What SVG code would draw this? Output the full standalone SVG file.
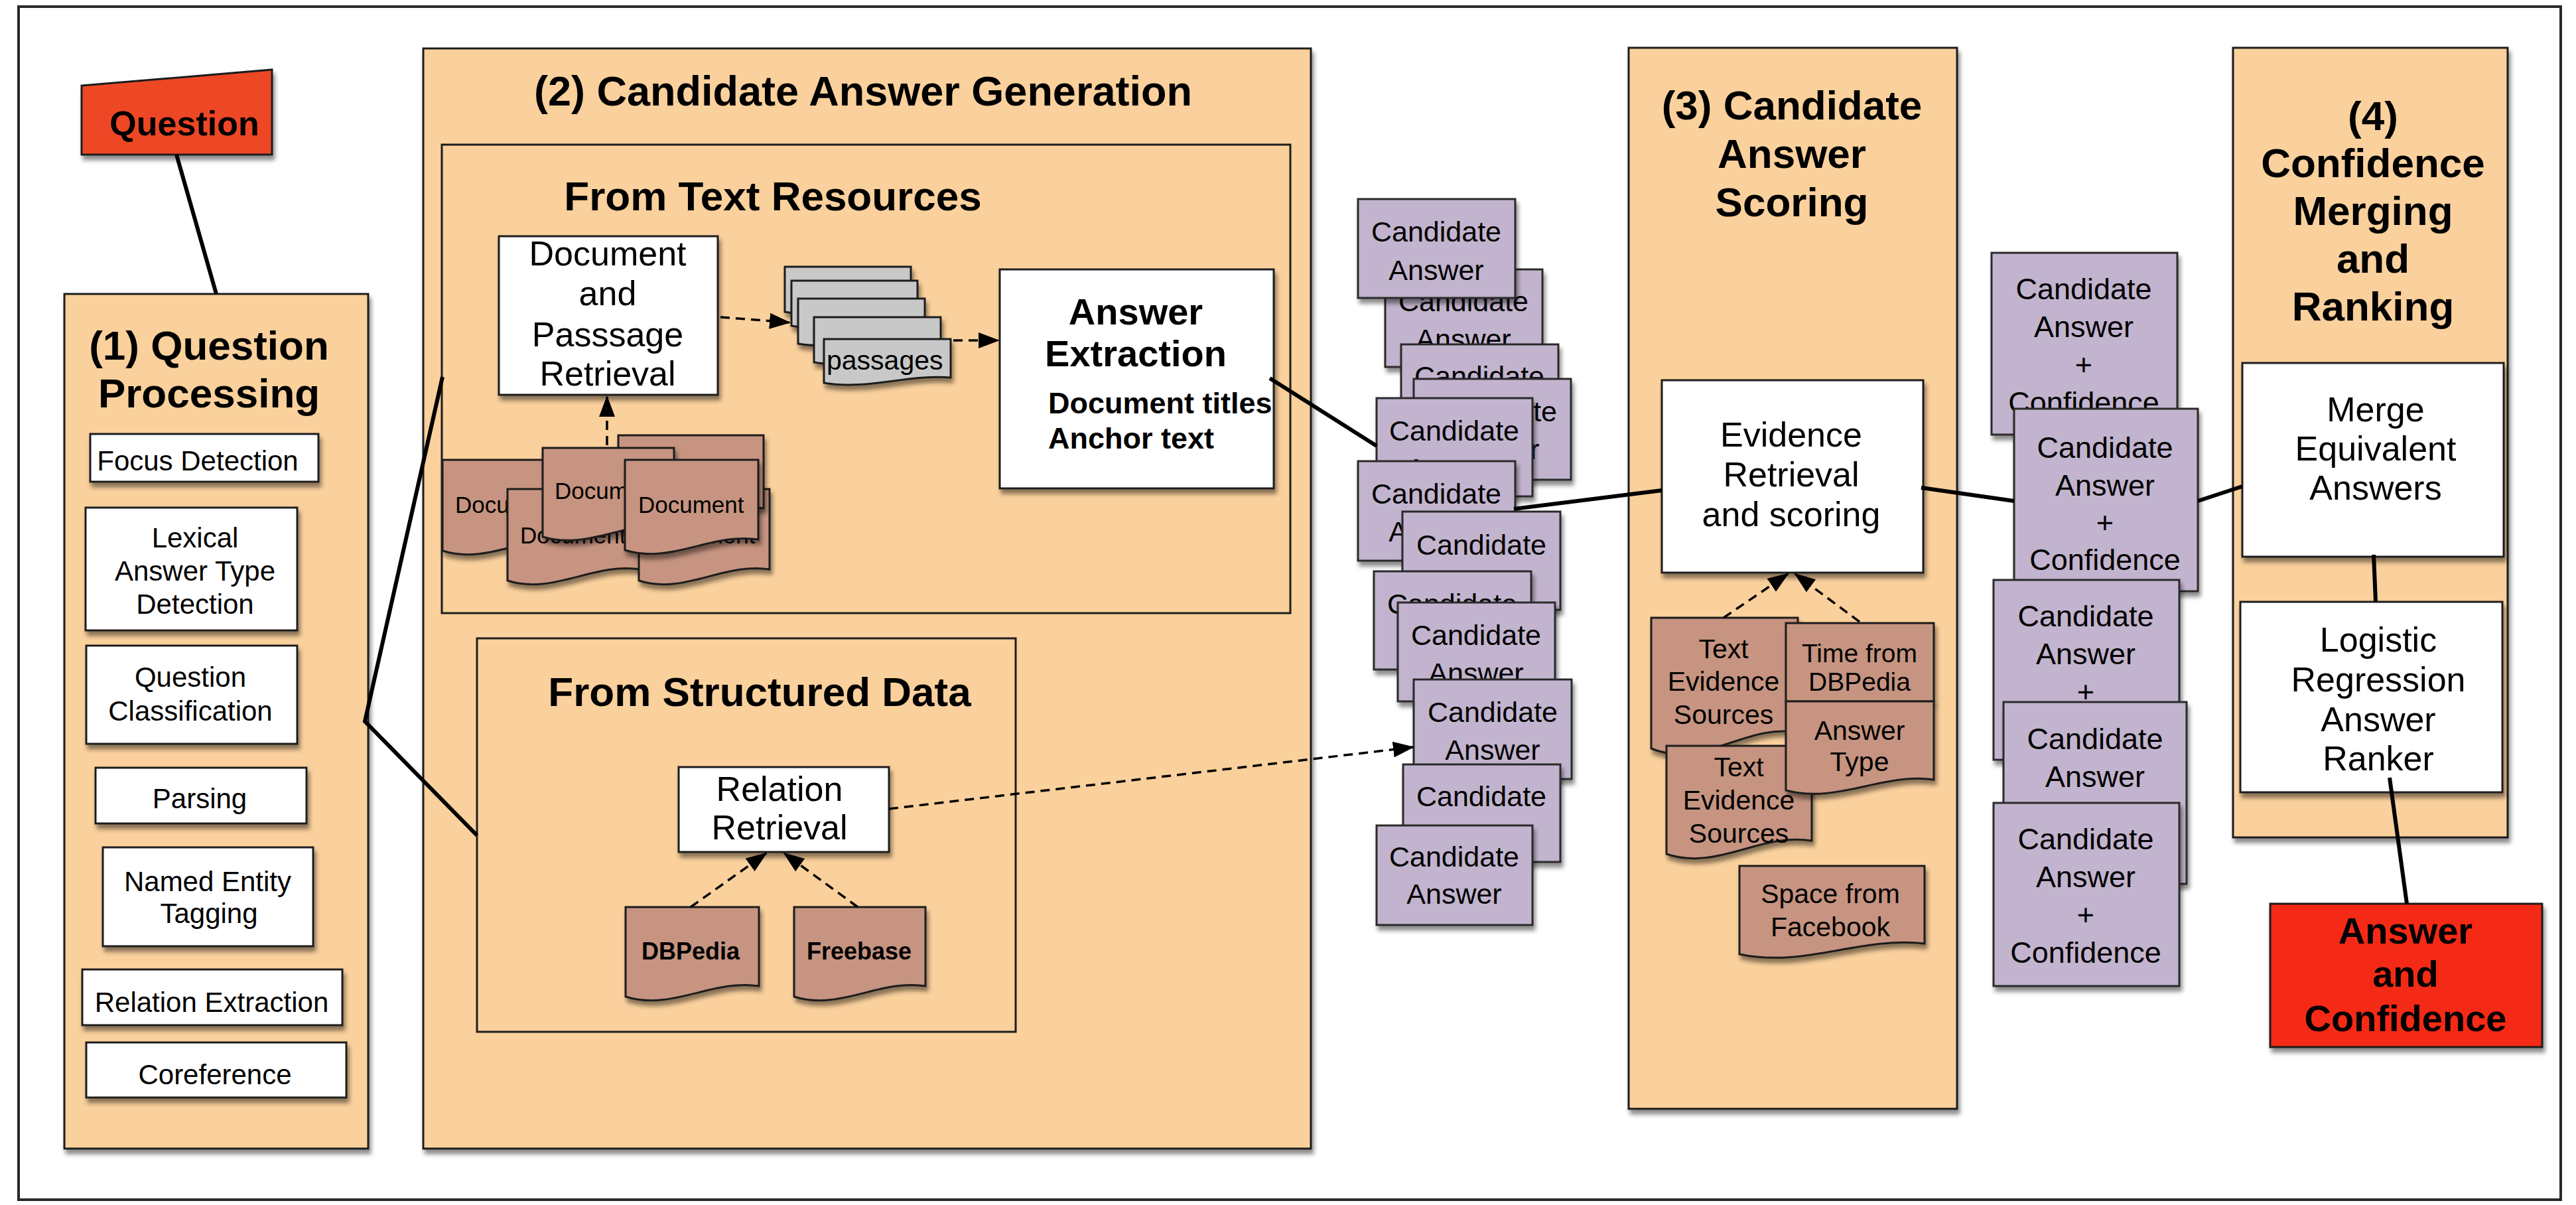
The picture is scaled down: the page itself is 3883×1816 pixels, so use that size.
<svg xmlns="http://www.w3.org/2000/svg" width="3883" height="1816" viewBox="0 0 3883 1816">
<defs>
<style>
text { font-family: "Liberation Sans", Arial, Helvetica, sans-serif; fill: #000; }
.c { text-anchor: middle; }
.b { font-weight: bold; }
.cont { fill: #FAD09C; stroke: #1e1e1e; stroke-width: 3; filter: url(#ds); }
.inner { fill: #FAD09C; stroke: #1e1e1e; stroke-width: 3; }
.wb { fill: #ffffff; stroke: #1e1e1e; stroke-width: 3; filter: url(#ds); }
.card { fill: #C2B4CE; stroke: #2a2a2a; stroke-width: 3; filter: url(#ds); }
.doc { fill: #C69480; stroke: #1e1e1e; stroke-width: 3; filter: url(#ds); }
.pas { fill: #C8C8C8; stroke: #1e1e1e; stroke-width: 3; filter: url(#ds); }
.ln { stroke: #000; stroke-width: 6; fill: none; }
.dl { stroke: #000; stroke-width: 3.5; fill: none; stroke-dasharray: 14 9; marker-end: url(#ah); }
.t62 { font-size: 62px; font-weight: bold; }
.t52 { font-size: 52px; }
.t45 { font-size: 45px; }
.t43 { font-size: 43px; }
.t42 { font-size: 42px; }
.t41 { font-size: 41px; }
.t35 { font-size: 35px; }
</style>
<filter id="ds" x="-10%" y="-10%" width="125%" height="130%">
<feDropShadow dx="3" dy="7" stdDeviation="3" flood-color="#000" flood-opacity="0.45"/>
</filter>
<marker id="ah" markerUnits="userSpaceOnUse" markerWidth="32" markerHeight="24" refX="30" refY="12" orient="auto">
<path d="M0,0 L32,12 L0,24 Z" fill="#000"/>
</marker>
</defs>

<rect x="0" y="0" width="3883" height="1816" fill="#ffffff"/>
<rect id="frame" x="28" y="10" width="3832" height="1798" fill="none" stroke="#2a2a2a" stroke-width="4"/>

<!-- Containers -->
<g id="box1-question-processing">
<rect class="cont" x="97" y="443" width="458" height="1288"/>
<text class="t62 c" x="315" y="542">(1) Question</text>
<text class="t62 c" x="315" y="614">Processing</text>
</g>
<g id="box2-candidate-generation">
<rect class="cont" x="638" y="73" width="1338" height="1658"/>
<text class="b c" font-size="63" x="1301" y="159">(2) Candidate Answer Generation</text>
</g>
<g id="box3-candidate-scoring">
<rect class="cont" x="2455" y="72" width="495" height="1599"/>
<text class="t62 c" x="2701" y="180">(3) Candidate</text>
<text class="t62 c" x="2701" y="253">Answer</text>
<text class="t62 c" x="2701" y="326">Scoring</text>
</g>
<g id="box4-confidence-ranking">
<rect class="cont" x="3366" y="72" width="414" height="1190"/>
<text class="t62 c" x="3577" y="196">(4)</text>
<text class="t62 c" x="3577" y="267">Confidence</text>
<text class="t62 c" x="3577" y="339">Merging</text>
<text class="t62 c" x="3577" y="411">and</text>
<text class="t62 c" x="3577" y="483">Ranking</text>
</g>

<!-- Question -->
<g id="question">
<polygon points="123,129 410,105 410,233 123,233" fill="#EE4628" stroke="#1e1e1e" stroke-width="3" style="filter:url(#ds)"/>
<text class="b c" font-size="52" x="278" y="204">Question</text>
</g>

<!-- Box 1 steps -->
<g id="focus-detection">
<rect class="wb" x="136" y="654" width="344" height="72"/>
<text class="t42 c" x="298" y="709">Focus Detection</text>
</g>
<g id="lat-detection">
<rect class="wb" x="129" y="765" width="319" height="185"/>
<text class="t42 c" x="294" y="825">Lexical</text>
<text class="t42 c" x="294" y="875">Answer Type</text>
<text class="t42 c" x="294" y="925">Detection</text>
</g>
<g id="question-classification">
<rect class="wb" x="130" y="973" width="318" height="148"/>
<text class="t42 c" x="287" y="1035">Question</text>
<text class="t42 c" x="287" y="1086">Classification</text>
</g>
<g id="parsing">
<rect class="wb" x="144" y="1157" width="318" height="84"/>
<text class="t42 c" x="301" y="1218">Parsing</text>
</g>
<g id="named-entity-tagging">
<rect class="wb" x="155" y="1277" width="317" height="149"/>
<text class="t42 c" x="313" y="1343">Named Entity</text>
<text class="t42 c" x="315" y="1391">Tagging</text>
</g>
<g id="relation-extraction">
<rect class="wb" x="124" y="1461" width="392" height="84"/>
<text class="t42 c" x="319" y="1525">Relation Extraction</text>
</g>
<g id="coreference">
<rect class="wb" x="130" y="1571" width="392" height="83"/>
<text class="t42 c" x="324" y="1634">Coreference</text>
</g>

<!-- Box 2 inner groups -->
<g id="from-text-resources">
<rect class="inner" x="666" y="218" width="1279" height="706"/>
<text class="b c" font-size="62" x="1165" y="317">From Text Resources</text>
</g>
<g id="from-structured-data">
<rect class="inner" x="719" y="962" width="812" height="593"/>
<text class="b c" font-size="62" x="1145" y="1064">From Structured Data</text>
</g>

<g id="doc-passage-retrieval">
<rect class="wb" x="752" y="356" width="330" height="239"/>
<text class="t52 c" x="916" y="400">Document</text>
<text class="t52 c" x="916" y="460">and</text>
<text class="t52 c" x="916" y="522">Passsage</text>
<text class="t52 c" x="916" y="581">Retrieval</text>
</g>

<g id="documents">
<path class="doc" d="M667,693 H867 V813 C797,802 737,852 667,830 Z"/>
<text class="t35" x="686" y="773">Document</text>
<path class="doc" d="M765,737 H965 V858 C895,847 835,897 765,875 Z"/>
<text class="t35" x="784" y="819">Document</text>
<path class="doc" d="M963,737 H1160 V858 C1091,847 1032,897 963,875 Z"/>
<text class="t35" x="979" y="819">Document</text>
<path class="doc" d="M932,656 H1151 V766 C1074,756 1009,801 932,781 Z"/>
<path class="doc" d="M818,675 H1016 V793 C947,782 887,830 818,809 Z"/>
<text class="t35" x="836" y="752">Document</text>
<path class="doc" d="M942,693 H1143 V813 C1073,802 1012,851 942,829 Z"/>
<text class="t35" x="962" y="773">Document</text>
</g>

<g id="passages">
<path class="pas" d="M1183,402 H1373 V462 C1306,456 1250,481 1183,470 Z"/>
<path class="pas" d="M1193,423 H1383 V483 C1316,477 1260,502 1193,491 Z"/>
<path class="pas" d="M1203,450 H1394 V510 C1327,504 1270,529 1203,518 Z"/>
<path class="pas" d="M1227,478 H1418 V538 C1351,532 1294,557 1227,546 Z"/>
<path class="pas" d="M1242,511 H1433 V569 C1366,564 1309,588 1242,577 Z"/>
<text class="t41" x="1246" y="557">passages</text>
</g>

<g id="answer-extraction">
<rect class="wb" x="1507" y="406" width="413" height="330"/>
<text class="b c" font-size="56" x="1712" y="489">Answer</text>
<text class="b c" font-size="56" x="1712" y="552">Extraction</text>
<text class="b" font-size="45" x="1580" y="623">Document titles</text>
<text class="b" font-size="45" x="1580" y="676">Anchor text</text>
</g>

<g id="relation-retrieval">
<rect class="wb" x="1023" y="1156" width="317" height="128"/>
<text class="t52 c" x="1175" y="1207">Relation</text>
<text class="t52 c" x="1175" y="1265">Retrieval</text>
</g>
<g id="dbpedia">
<path class="doc" d="M943,1367 H1144 V1486 C1074,1475 1013,1524 943,1502 Z"/>
<text class="b c" font-size="36" x="1041" y="1446">DBPedia</text>
</g>
<g id="freebase">
<path class="doc" d="M1197,1367 H1395 V1486 C1326,1475 1266,1524 1197,1502 Z"/>
<text class="b c" font-size="36" x="1295" y="1446">Freebase</text>
</g>

<!-- Candidate answers -->
<g id="candidate-answers">
<g><rect class="card" x="2088" y="406" width="237" height="147"/><text class="t43 c" x="2206" y="469">Candidate</text><text class="t43 c" x="2206" y="526">Answer</text></g>
<g><rect class="card" x="2047" y="300" width="237" height="149"/><text class="t43 c" x="2165" y="364">Candidate</text><text class="t43 c" x="2165" y="422">Answer</text></g>
<g><rect class="card" x="2112" y="519" width="237" height="149"/><text class="t43 c" x="2230" y="582">Candidate</text><text class="t43 c" x="2230" y="639">Answer</text></g>
<g><rect class="card" x="2131" y="571" width="237" height="152"/><text class="t43 c" x="2249" y="635">Candidate</text><text class="t43 c" x="2249" y="692">Answer</text></g>
<g><rect class="card" x="2075" y="600" width="235" height="148"/><text class="t43 c" x="2192" y="664">Candidate</text><text class="t43 c" x="2192" y="721">Answer</text></g>
<g><rect class="card" x="2047" y="695" width="237" height="150"/><text class="t43 c" x="2165" y="759">Candidate</text><text class="t43 c" x="2165" y="816">Answer</text></g>
<g><rect class="card" x="2114" y="771" width="238" height="148"/><text class="t43 c" x="2233" y="836">Candidate</text><text class="t43 c" x="2233" y="893">Answer</text></g>
<g><rect class="card" x="2071" y="861" width="237" height="148"/><text class="t43 c" x="2189" y="925">Candidate</text><text class="t43 c" x="2189" y="982">Answer</text></g>
<g><rect class="card" x="2107" y="908" width="237" height="149"/><text class="t43 c" x="2225" y="972">Candidate</text><text class="t43 c" x="2225" y="1029">Answer</text></g>
<g><rect class="card" x="2131" y="1024" width="238" height="150"/><text class="t43 c" x="2250" y="1088">Candidate</text><text class="t43 c" x="2250" y="1145">Answer</text></g>
<g><rect class="card" x="2115" y="1152" width="237" height="147"/><text class="t43 c" x="2233" y="1215">Candidate</text><text class="t43 c" x="2233" y="1272">Answer</text></g>
<g><rect class="card" x="2075" y="1244" width="235" height="150"/><text class="t43 c" x="2192" y="1306">Candidate</text><text class="t43 c" x="2192" y="1362">Answer</text></g>
</g>

<!-- Box 3 -->
<g id="evidence-retrieval">
<rect class="wb" x="2505" y="573" width="394" height="290"/>
<text class="t52 c" x="2700" y="673">Evidence</text>
<text class="t52 c" x="2700" y="733">Retrieval</text>
<text class="t52 c" x="2700" y="793">and scoring</text>
</g>
<g id="text-evidence-1">
<path class="doc" d="M2489,931 H2710 V1104 C2633,1089 2566,1160 2489,1128 Z"/>
<text class="t41 c" x="2598" y="992">Text</text>
<text class="t41 c" x="2598" y="1041">Evidence</text>
<text class="t41 c" x="2598" y="1091">Sources</text>
</g>
<g id="text-evidence-2">
<path class="doc" d="M2512,1124 H2731 V1267 C2654,1254 2589,1313 2512,1287 Z"/>
<text class="t41 c" x="2621" y="1170">Text</text>
<text class="t41 c" x="2621" y="1220">Evidence</text>
<text class="t41 c" x="2621" y="1270">Sources</text>
</g>
<g id="time-from-dbpedia">
<rect class="doc" x="2692" y="939" width="223" height="118"/>
<text class="c" font-size="39" x="2803" y="998">Time from</text>
<text class="c" font-size="39" x="2803" y="1041">DBPedia</text>
</g>
<g id="answer-type">
<path class="doc" d="M2692,1057 H2915 V1175 C2837,1164 2770,1212 2692,1191 Z"/>
<text class="t41 c" x="2803" y="1115">Answer</text>
<text class="t41 c" x="2803" y="1162">Type</text>
</g>
<g id="space-from-facebook">
<path class="doc" d="M2622,1305 H2901 V1422 C2803,1411 2720,1459 2622,1438 Z"/>
<text class="t41 c" x="2759" y="1361">Space from</text>
<text class="t41 c" x="2759" y="1411">Facebook</text>
</g>

<!-- Candidate + confidence -->
<g id="candidate-confidence">
<g><rect class="card" x="3002" y="381" width="280" height="274"/><text class="t45 c" x="3141" y="451">Candidate</text><text class="t45 c" x="3141" y="508">Answer</text><text class="t45 c" x="3141" y="565">+</text><text class="t45 c" x="3141" y="622">Confidence</text></g>
<g><rect class="card" x="3036" y="616" width="277" height="275"/><text class="t45 c" x="3173" y="690">Candidate</text><text class="t45 c" x="3173" y="747">Answer</text><text class="t45 c" x="3173" y="803">+</text><text class="t45 c" x="3173" y="859">Confidence</text></g>
<g><rect class="card" x="3005" y="874" width="280" height="271"/><text class="t45 c" x="3144" y="944">Candidate</text><text class="t45 c" x="3144" y="1001">Answer</text><text class="t45 c" x="3144" y="1058">+</text><text class="t45 c" x="3144" y="1115">Confidence</text></g>
<g><rect class="card" x="3020" y="1058" width="276" height="274"/><text class="t45 c" x="3158" y="1129">Candidate</text><text class="t45 c" x="3158" y="1186">Answer</text><text class="t45 c" x="3158" y="1243">+</text><text class="t45 c" x="3158" y="1300">Confidence</text></g>
<g><rect class="card" x="3005" y="1210" width="280" height="276"/><text class="t45 c" x="3144" y="1280">Candidate</text><text class="t45 c" x="3144" y="1337">Answer</text><text class="t45 c" x="3144" y="1394">+</text><text class="t45 c" x="3144" y="1451">Confidence</text></g>
</g>

<!-- Box 4 -->
<g id="merge-equivalent">
<rect class="wb" x="3380" y="547" width="394" height="292"/>
<text class="t52 c" x="3581" y="635">Merge</text>
<text class="t52 c" x="3581" y="694">Equivalent</text>
<text class="t52 c" x="3581" y="753">Answers</text>
</g>
<g id="logistic-regression">
<rect class="wb" x="3377" y="907" width="395" height="287"/>
<text class="t52 c" x="3585" y="982">Logistic</text>
<text class="t52 c" x="3585" y="1042">Regression</text>
<text class="t52 c" x="3585" y="1102">Answer</text>
<text class="t52 c" x="3585" y="1161">Ranker</text>
</g>
<g id="answer-and-confidence">
<rect x="3422" y="1362" width="410" height="216" fill="#F52A12" stroke="#1e1e1e" stroke-width="3" style="filter:url(#ds)"/>
<text class="b c" font-size="56" x="3626" y="1422">Answer</text>
<text class="b c" font-size="56" x="3626" y="1487">and</text>
<text class="b c" font-size="56" x="3626" y="1554">Confidence</text>
</g>

<!-- Connectors -->
<g id="connectors">
<line class="ln" x1="266" y1="233" x2="326" y2="443"/>
<polyline class="ln" points="667,568 550,1087 719,1259"/>
<line class="ln" x1="1914" y1="570" x2="2075" y2="672"/>
<line class="ln" x1="2282" y1="767" x2="2505" y2="739"/>
<line class="ln" x1="2896" y1="735" x2="3036" y2="755"/>
<line class="ln" x1="3313" y1="755" x2="3380" y2="733"/>
<line class="ln" x1="3578" y1="836" x2="3581" y2="907"/>
<line class="ln" x1="3602" y1="1172" x2="3628" y2="1362"/>
<line class="dl" x1="915" y1="671" x2="915" y2="598"/>
<line class="dl" x1="1086" y1="478" x2="1190" y2="486"/>
<line class="dl" x1="1437" y1="513" x2="1505" y2="513"/>
<line class="dl" x1="1041" y1="1367" x2="1155" y2="1286"/>
<line class="dl" x1="1293" y1="1367" x2="1182" y2="1286"/>
<line class="dl" x1="1340" y1="1219" x2="2130" y2="1126"/>
<line class="dl" x1="2598" y1="931" x2="2695" y2="865"/>
<line class="dl" x1="2803" y1="937" x2="2706" y2="865"/>
</g>
</svg>
